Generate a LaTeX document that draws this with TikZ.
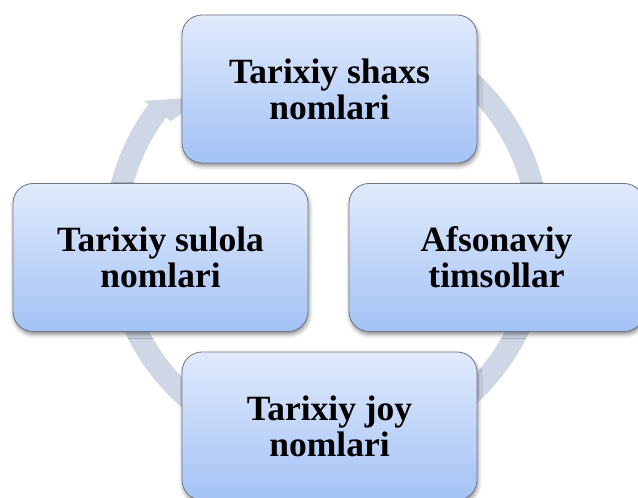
\documentclass[tikz,border=0pt]{standalone}
\usepackage{fontspec}
\setmainfont{Liberation Serif}
\usetikzlibrary{calc,shadows.blur}
\definecolor{ringc}{RGB}{207,214,229}
\definecolor{boxtop}{RGB}{225,234,252}
\definecolor{boxbot}{RGB}{164,194,246}
\definecolor{boxline}{RGB}{110,118,130}
\begin{document}
\begin{tikzpicture}[x=1pt,y=1pt,
  cbox/.style={draw=boxline, line width=0.8pt, rounded corners=20pt,
    top color=boxtop, bottom color=boxbot,
    minimum width=295pt, minimum height=148pt, inner sep=0pt,
    align=center, font=\fontsize{35.5}{36}\selectfont\bfseries,
    blur shadow={shadow xshift=1pt, shadow yshift=-3pt, shadow blur radius=4pt, shadow opacity=45}},
  ring/.style={ringc, line width=22pt}]
\useasboundingbox (0,0) rectangle (638,498);
\coordinate (c) at (327,260);
\coordinate (tip) at (205,401);
\draw[ring] ($(c)+(115:212)$) arc[start angle=115, end angle=-217.2, radius=212];
\fill[ringc] ($(c)+(143.2:229)$) -- (tip) -- ($(c)+(143.2:195)$) -- cycle;
\node[cbox] (top) at (329.5,409) {Tarixiy shaxs\\nomlari};
\node[cbox] (right) at (496.5,240.5) {Afsonaviy\\timsollar};
\node[cbox] (bottom) at (329.5,72) {Tarixiy joy\\nomlari};
\node[cbox] (left) at (160.5,240.5) {Tarixiy sulola\\nomlari};
\end{tikzpicture}
\end{document}
